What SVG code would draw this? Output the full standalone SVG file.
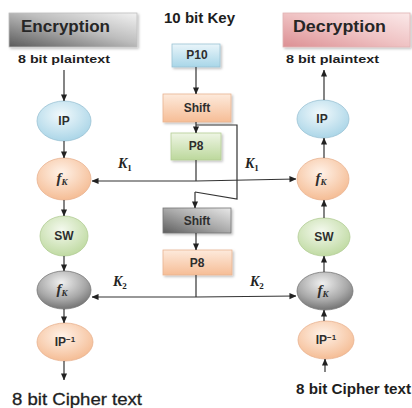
<svg xmlns="http://www.w3.org/2000/svg" width="412" height="408" viewBox="0 0 412 408">
  <defs>
    <linearGradient id="gHeadGray" x1="1" y1="0" x2="0" y2="1">
      <stop offset="0" stop-color="#f2f2f2"/>
      <stop offset="0.45" stop-color="#bdbdbd"/>
      <stop offset="1" stop-color="#5a5a5a"/>
    </linearGradient>
    <linearGradient id="gHeadPink" x1="1" y1="0" x2="0" y2="1">
      <stop offset="0" stop-color="#fbe9e9"/>
      <stop offset="0.5" stop-color="#efc2c3"/>
      <stop offset="1" stop-color="#dc8f93"/>
    </linearGradient>
    <linearGradient id="gBlue" x1="0" y1="0" x2="0" y2="1">
      <stop offset="0" stop-color="#e9f5fa"/>
      <stop offset="1" stop-color="#a8d6e8"/>
    </linearGradient>
    <linearGradient id="gPeach" x1="0" y1="0" x2="0" y2="1">
      <stop offset="0" stop-color="#fdeadc"/>
      <stop offset="1" stop-color="#f6bd96"/>
    </linearGradient>
    <linearGradient id="gGreen" x1="0" y1="0" x2="0" y2="1">
      <stop offset="0" stop-color="#eef5e4"/>
      <stop offset="1" stop-color="#bcd89c"/>
    </linearGradient>
    <linearGradient id="gGrayBox" x1="1" y1="0" x2="0" y2="1">
      <stop offset="0" stop-color="#e8e8e8"/>
      <stop offset="0.5" stop-color="#a9a9a9"/>
      <stop offset="1" stop-color="#5e5e5e"/>
    </linearGradient>
    <radialGradient id="rBlue" cx="0.45" cy="0.35" r="0.7">
      <stop offset="0" stop-color="#f1f9fc"/>
      <stop offset="1" stop-color="#a6d3e6"/>
    </radialGradient>
    <radialGradient id="rPeach" cx="0.45" cy="0.35" r="0.7">
      <stop offset="0" stop-color="#fff2e8"/>
      <stop offset="1" stop-color="#f4b98f"/>
    </radialGradient>
    <radialGradient id="rGreen" cx="0.45" cy="0.35" r="0.7">
      <stop offset="0" stop-color="#f4f9ee"/>
      <stop offset="1" stop-color="#bcd89d"/>
    </radialGradient>
    <radialGradient id="rGray" cx="0.45" cy="0.3" r="0.75">
      <stop offset="0" stop-color="#f0f0f0"/>
      <stop offset="0.6" stop-color="#a8a8a8"/>
      <stop offset="1" stop-color="#6a6a6a"/>
    </radialGradient>
    <filter id="shadow" x="-20%" y="-20%" width="150%" height="160%">
      <feDropShadow dx="1.5" dy="1.5" stdDeviation="1" flood-color="#000" flood-opacity="0.25"/>
    </filter>
    <marker id="arrow" viewBox="0 0 8 8" refX="7.5" refY="4" markerWidth="7" markerHeight="7" markerUnits="userSpaceOnUse" orient="auto">
      <path d="M0,0.5 L8,4 L0,7.5 z" fill="#222"/>
    </marker>
  </defs>
  <style>
    .lbl { font-family: "Liberation Sans", Arial, sans-serif; font-weight: bold; fill: #1e1e1e; }
    .head { font-family: "Liberation Sans", Arial, sans-serif; font-weight: bold; font-size: 16px; fill: #262626; }
    .node { font-family: "Liberation Sans", Arial, sans-serif; font-weight: bold; font-size: 12px; fill: #2e2e2e; text-anchor: middle; }
    .fk { font-family: "Liberation Serif", "Times New Roman", serif; font-style: italic; font-weight: bold; font-size: 15px; fill: #2e2e2e; text-anchor: middle; }
    .key { font-family: "Liberation Serif", "Times New Roman", serif; font-style: italic; font-weight: bold; font-size: 14px; fill: #222; }
    .sub { font-style: normal; font-size: 9px; }
    .wire { fill: none; stroke: #333; stroke-width: 1.2; }
    .arr { fill: none; stroke: #333; stroke-width: 1.2; marker-end: url(#arrow); }
    .eBlue { fill: url(#rBlue); stroke: #9cc3d4; stroke-width: 0.8; }
    .ePeach { fill: url(#rPeach); stroke: #e9b391; stroke-width: 0.8; }
    .eGreen { fill: url(#rGreen); stroke: #b3cd95; stroke-width: 0.8; }
    .eGray { fill: url(#rGray); stroke: #777; stroke-width: 0.8; }
  </style>

  <rect width="412" height="408" fill="#ffffff"/>

  <!-- Headings -->
  <g id="enc-head">
    <rect x="9" y="13" width="128" height="34" fill="url(#gHeadGray)" stroke="#bdbdbd" stroke-width="0.8" filter="url(#shadow)"/>
    <text class="head" x="21" y="32" textLength="89" lengthAdjust="spacingAndGlyphs">Encryption</text>
  </g>
  <g id="dec-head">
    <rect x="283" y="13" width="127" height="34" fill="url(#gHeadPink)" stroke="#e2b3b4" stroke-width="0.8" filter="url(#shadow)"/>
    <text class="head" x="293" y="32" textLength="93" lengthAdjust="spacingAndGlyphs">Decryption</text>
  </g>
  <g id="key-title">
    <text class="lbl" x="164" y="23" font-size="14" textLength="71" lengthAdjust="spacingAndGlyphs">10 bit Key</text>
  </g>

  <!-- Plain/cipher text labels -->
  <g id="enc-in">
    <text class="lbl" x="18" y="63" font-size="11" textLength="92" lengthAdjust="spacingAndGlyphs">8 bit plaintext</text>
  </g>
  <g id="dec-out">
    <text class="lbl" x="286" y="63" font-size="11" textLength="93" lengthAdjust="spacingAndGlyphs">8 bit plaintext</text>
  </g>
  <g id="enc-out">
    <text x="12" y="405" font-family="Liberation Sans, Arial, sans-serif" font-size="16" fill="#1e1e1e" stroke="#1e1e1e" stroke-width="0.3" textLength="130" lengthAdjust="spacingAndGlyphs">8 bit Cipher text</text>
  </g>
  <g id="dec-in">
    <text class="lbl" x="296" y="394" font-size="14" textLength="115" lengthAdjust="spacingAndGlyphs">8 bit Cipher text</text>
  </g>

  <!-- Key generation -->
  <g id="p10">
    <rect x="172" y="44" width="48" height="23" fill="url(#gBlue)" stroke="#9cc3d4" stroke-width="0.8" filter="url(#shadow)"/>
    <text class="node" x="197" y="59" font-size="10.5">P10</text>
  </g>
  <g id="shift1">
    <rect x="163" y="94" width="68" height="28" fill="url(#gPeach)" stroke="#e9b391" stroke-width="0.8" filter="url(#shadow)"/>
    <text class="node" x="197" y="112">Shift</text>
  </g>
  <g id="p8a">
    <rect x="171" y="133" width="50" height="27" fill="url(#gGreen)" stroke="#b3cd95" stroke-width="0.8" filter="url(#shadow)"/>
    <text class="node" x="196" y="150">P8</text>
  </g>
  <g id="shift2">
    <rect x="163" y="208" width="68" height="25" fill="url(#gGrayBox)" stroke="#777" stroke-width="0.8" filter="url(#shadow)"/>
    <text class="node" x="197" y="225">Shift</text>
  </g>
  <g id="p8b">
    <rect x="163" y="250" width="69" height="25" fill="url(#gPeach)" stroke="#e9b391" stroke-width="0.8" filter="url(#shadow)"/>
    <text class="node" x="197" y="267">P8</text>
  </g>

  <!-- Encryption column -->
  <g id="enc-ip">
    <ellipse class="eBlue" cx="64" cy="121" rx="27" ry="20"/>
    <text class="node" x="64" y="125">IP</text>
  </g>
  <g id="enc-fk1">
    <ellipse class="ePeach" cx="64" cy="179" rx="27" ry="21"/>
    <text class="fk" x="62" y="183">f<tspan font-size="9" dy="2">K</tspan></text>
  </g>
  <g id="enc-sw">
    <ellipse class="eGreen" cx="64" cy="236" rx="24" ry="20"/>
    <text class="node" x="64" y="240">SW</text>
  </g>
  <g id="enc-fk2">
    <ellipse class="eGray" cx="64" cy="290" rx="27" ry="19"/>
    <text class="fk" x="62" y="294">f<tspan font-size="9" dy="2">K</tspan></text>
  </g>
  <g id="enc-ipinv">
    <ellipse class="ePeach" cx="65" cy="342" rx="28" ry="19"/>
    <text class="node" x="65" y="346">IP<tspan font-size="8" dy="-4">−1</tspan></text>
  </g>

  <!-- Decryption column -->
  <g id="dec-ip">
    <ellipse class="eBlue" cx="323" cy="119" rx="26" ry="19"/>
    <text class="node" x="322" y="123">IP</text>
  </g>
  <g id="dec-fk1">
    <ellipse class="ePeach" cx="323" cy="179" rx="26" ry="21"/>
    <text class="fk" x="321" y="183">f<tspan font-size="9" dy="2">K</tspan></text>
  </g>
  <g id="dec-sw">
    <ellipse class="eGreen" cx="324" cy="237" rx="26" ry="19"/>
    <text class="node" x="324" y="241">SW</text>
  </g>
  <g id="dec-fk2">
    <ellipse class="eGray" cx="325" cy="291" rx="28" ry="19"/>
    <text class="fk" x="323" y="295">f<tspan font-size="9" dy="2">K</tspan></text>
  </g>
  <g id="dec-ipinv">
    <ellipse class="ePeach" cx="326" cy="340" rx="28" ry="19"/>
    <text class="node" x="326" y="344">IP<tspan font-size="8" dy="-4">−1</tspan></text>
  </g>

  <!-- Subkey labels -->
  <g id="k-labels">
    <text class="key" x="118" y="168">K<tspan class="sub" dy="3">1</tspan></text>
    <text class="key" x="245" y="168">K<tspan class="sub" dy="3">1</tspan></text>
    <text class="key" x="113" y="286">K<tspan class="sub" dy="3">2</tspan></text>
    <text class="key" x="250" y="286">K<tspan class="sub" dy="3">2</tspan></text>
  </g>

  <!-- Connectors -->
  <g id="connectors">
    <!-- encryption flow -->
    <line class="arr" x1="64" y1="70" x2="64" y2="101"/>
    <line class="arr" x1="64" y1="141" x2="64" y2="158"/>
    <line class="arr" x1="64" y1="200" x2="64" y2="216"/>
    <line class="arr" x1="64" y1="256" x2="64" y2="271"/>
    <line class="arr" x1="64" y1="309" x2="64" y2="323"/>
    <line class="arr" x1="64" y1="361" x2="64" y2="380"/>
    <!-- decryption flow -->
    <line class="arr" x1="324" y1="100" x2="324" y2="70"/>
    <line class="arr" x1="324" y1="158" x2="324" y2="138"/>
    <line class="arr" x1="324" y1="218" x2="324" y2="200"/>
    <line class="arr" x1="324" y1="272" x2="324" y2="256"/>
    <line class="arr" x1="324" y1="321" x2="324" y2="310"/>
    <line class="arr" x1="325" y1="372" x2="325" y2="359"/>
    <!-- key schedule -->
    <line class="arr" x1="196" y1="67" x2="196" y2="94"/>
    <line class="arr" x1="196" y1="122" x2="196" y2="133"/>
    <polyline class="wire" points="196,125 237,125 237,199 195,192"/>
    <line class="arr" x1="195" y1="192" x2="195" y2="208"/>
    <line class="arr" x1="196" y1="233" x2="196" y2="250"/>
    <!-- K1 distribution -->
    <line class="wire" x1="196" y1="160" x2="196" y2="181"/>
    <line class="arr" x1="196" y1="181" x2="92" y2="181"/>
    <line class="arr" x1="196" y1="181" x2="296" y2="179"/>
    <!-- K2 distribution -->
    <line class="wire" x1="196" y1="275" x2="196" y2="297"/>
    <line class="arr" x1="196" y1="297" x2="92" y2="297"/>
    <line class="arr" x1="196" y1="297" x2="296" y2="296"/>
  </g>
</svg>
